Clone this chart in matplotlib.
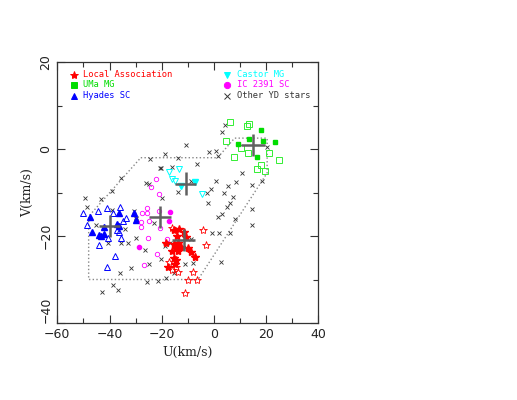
'''
U-V velocity diagram of young-disk stars with moving-group members.
'''
import matplotlib
matplotlib.use('Agg')
import matplotlib.pyplot as plt
from matplotlib.ticker import MultipleLocator

# Local Association
la_fill_u = [-13.4, -15.2, -14.1, -18.2, -15.2, -14.3, -12.4, -9.9, -8.6, -7.3, -16.2, -13.7, -15.2, -14.3, -17.5, -15.0, -13.7, -10.5, -11.4]
la_fill_v = [-18.4, -18.6, -20.0, -21.5, -21.9, -22.8, -22.5, -22.8, -23.6, -24.8, -23.4, -23.4, -25.1, -25.5, -27.1, -26.5, -21.5, -20.2, -19.0]
la_open_u = [-4.2, -2.8, -16.2, -7.3, -14.3, -16.2, -13.7, -8.0, -9.9, -6.3, -10.9, -17.0]
la_open_v = [-18.7, -22.0, -18.1, -24.8, -27.1, -27.8, -28.2, -28.2, -30.1, -30.1, -33.2, -26.0]

# UMa moving group
uma_fill_u = [18.0, 13.5, 9.3, 18.9, 23.7, 16.6]
uma_fill_v = [4.4, 2.3, 1.1, 1.9, 1.7, -1.8]
uma_open_u = [6.1, 12.7, 13.5, 4.8, 10.6, 7.7, 13.1, 21.1, 25.2, 18.0, 16.6, 19.5]
uma_open_v = [6.3, 5.4, 5.7, 1.9, 0.3, -1.8, -1.0, -1.0, -2.5, -3.7, -4.6, -5.1]

# Hyades supercluster
hya_fill_u = [-47.5, -46.7, -44.0, -43.1, -42.3, -42.1, -37.1, -36.3, -36.3, -30.6, -30.0]
hya_fill_v = [-15.6, -19.1, -19.7, -20.0, -19.6, -18.0, -17.2, -17.6, -14.6, -14.8, -16.4]
hya_open_u = [-50.3, -44.6, -41.1, -36.1, -38.6, -33.5, -48.6, -37.3, -36.5, -35.6, -40.5, -44.2, -38.0, -40.9, -35.0]
hya_open_v = [-14.8, -14.2, -13.6, -13.4, -14.6, -15.8, -17.5, -18.6, -19.1, -20.5, -20.5, -22.0, -24.5, -27.1, -16.5]

# Castor moving group
cas_fill_u = [-7.3, -12.7]
cas_fill_v = [-7.6, -8.5]
cas_open_u = [-17.2, -13.4, -15.9, -14.7, -4.5]
cas_open_v = [-5.4, -4.7, -6.9, -7.4, -10.4]

# IC 2391 supercluster
ic_fill_u = [-16.6, -17.3, -28.7]
ic_fill_v = [-14.4, -16.5, -22.5]
ic_open_u = [-22.3, -24.2, -21.0, -25.6, -27.7, -25.6, -28.1, -28.0, -24.8, -25.2, -20.5, -21.6, -26.7, -21.0, -17.8]
ic_open_v = [-7.0, -8.8, -10.3, -13.5, -14.6, -14.8, -16.7, -17.9, -16.6, -20.4, -18.2, -24.2, -26.7, -14.2, -20.7]

# other young-disk stars
oth_u = [-35.7, -39.1, -49.5, -43.1, -48.8, -10.8, -18.8, -13.7, -24.4, -20.7, -20.1, -15.9, -6.4,
         -26.1, -24.8, -13.7, -8.9, -2.5, -2.2, -19.7, -29.7, -29.7, -22.9, -45.0, -34.1, -29.7, -40.5,
         -35.4, -33.0, -26.5, -18.8, -11.1, -8.0, -15.2, -24.8, -31.6, -36.1, -38.6, -36.7, -42.7,
         -25.6, -21.4, -18.4, 4.2, 3.3, -1.8, 1.0, 1.6, 11.0, 20.4, 18.6, 14.6, 8.7, 5.4, 1.0, -1.2,
         3.8, 7.4, 6.1, 5.1, 14.8, 8.0, 3.3, 1.6, 14.8, -0.5, 2.0, 6.1, -8.6, 2.9, -20.1, -16.6,
         -39.2, -30.6, -30.0]
oth_v = [-6.6, -9.6, -11.3, -11.6, -13.4, 1.0, -1.1, -2.0, -2.4, -4.4, -4.4, -4.1, -3.5,
         -7.9, -8.0, -9.8, -7.4, -10.0, -12.5, -11.3, -15.9, -16.6, -17.1, -17.5, -18.5, -20.4, -21.5,
         -21.7, -21.5, -23.2, -22.3, -26.4, -26.1, -28.6, -26.4, -27.4, -28.6, -31.3, -32.3, -32.8,
         -30.5, -30.3, -29.7, 5.5, 3.8, -0.6, -0.4, -1.5, -5.6, 0.5, -7.3, -8.3, -7.7, -8.5, -7.4, -9.2,
         -10.0, -11.0, -12.5, -13.3, -13.9, -16.2, -15.0, -15.6, -17.5, -19.2, -19.2, -19.4, -20.8, -25.9, -25.4, -21.7,
         -14.0, -14.3, -16.0]

# group centres and their spreads
cen_u = [-11.5, 15.0, -40.0, -10.8, -20.7]
cen_v = [-20.9, 1.0, -17.7, -8.0, -15.7]
cen_du = [4.5, 4.5, 4.2, 4.1, 4.2]
cen_dv = [2.6, 2.5, 2.5, 2.6, 2.5]

# young-disk boundary
box_u = [-28, 1.5, 8, 20.5, 20.5, -6, -48, -48, -28]
box_v = [-2, -2, 2.5, 2.5, -5.5, -30, -30, -15.5, -2]

fig = plt.figure(figsize=(5.17, 4.0), dpi=100)
ax = fig.add_axes([0.111, 0.1925, 0.504, 0.6525])

ax.plot(box_u, box_v, color='#888888', linestyle=':', linewidth=1.0)

ax.plot(oth_u, oth_v, linestyle='', marker='x', color='#333333', markersize=3.3, mew=0.6)

ax.plot(hya_open_u, hya_open_v, linestyle='', marker='^', mfc='none', mec='blue', markersize=5, mew=0.7)
ax.plot(hya_fill_u, hya_fill_v, linestyle='', marker='^', color='blue', markersize=4.2)
ax.plot(uma_open_u, uma_open_v, linestyle='', marker='s', mfc='none', mec='#33ee33', markersize=4.5, mew=0.7)
ax.plot(uma_fill_u, uma_fill_v, linestyle='', marker='s', color='#00dd00', markersize=2.8)
ax.plot(cas_open_u, cas_open_v, linestyle='', marker='v', mfc='none', mec='cyan', markersize=4.8, mew=0.7)
ax.plot(cas_fill_u, cas_fill_v, linestyle='', marker='v', color='cyan', markersize=4)
ax.plot(ic_open_u, ic_open_v, linestyle='', marker='o', mfc='none', mec='magenta', markersize=3.2, mew=0.6)
ax.plot(ic_fill_u, ic_fill_v, linestyle='', marker='o', color='magenta', markersize=3)
ax.plot(la_open_u, la_open_v, linestyle='', marker='*', mfc='none', mec='red', markersize=6, mew=0.6)
ax.plot(la_fill_u, la_fill_v, linestyle='', marker='*', color='red', markersize=6)

ax.errorbar(cen_u, cen_v, xerr=cen_du, yerr=cen_dv, fmt='none', ecolor='#606060', elinewidth=1.8, capsize=0)

# legend, drawn by hand like the original
leg = [('*', 'red', 'Local Association', 0.04, 0.952),
       ('s', '#00dd00', 'UMa MG', 0.04, 0.912),
       ('^', 'blue', 'Hyades SC', 0.04, 0.870),
       ('v', 'cyan', 'Castor MG', 0.63, 0.952),
       ('o', 'magenta', 'IC 2391 SC', 0.63, 0.912),
       ('x', '#333333', 'Other YD stars', 0.63, 0.870)]
for m, c, lab, lx, ly in leg:
    ax.plot([lx + 0.022], [ly], marker=m, color=c, markersize=4.5 if m != '*' else 6,
            mew=0.7, linestyle='', transform=ax.transAxes)
    ax.text(lx + 0.06, ly, lab, color=c, transform=ax.transAxes,
            fontsize=6.3, family='DejaVu Sans Mono', va='center', ha='left')

ax.set_xlim(-60, 40)
ax.set_ylim(-40, 20)
ax.xaxis.set_major_locator(MultipleLocator(20))
ax.xaxis.set_minor_locator(MultipleLocator(10))
ax.yaxis.set_major_locator(MultipleLocator(20))
ax.yaxis.set_minor_locator(MultipleLocator(10))
ax.tick_params(which='both', direction='in', top=True, right=True, color='#333333', width=0.8)
ax.tick_params(which='major', length=6, labelsize=9, labelcolor='#222222')
ax.tick_params(which='minor', length=3.5)
ax.tick_params(axis='y', labelrotation=90)
for sp in ax.spines.values():
    sp.set_color('#333333')
    sp.set_linewidth(0.9)

ax.set_xlabel('U(km/s)', family='DejaVu Serif', fontsize=9, color='#222222')
ax.set_ylabel('V(km/s)', family='DejaVu Serif', fontsize=9, color='#222222')

# ticks are built at draw time, so draw once before adjusting the labels
fig.canvas.draw()
for lbl in ax.get_yticklabels():
    lbl.set_va('center')
    if lbl.get_position()[1] == -40:
        lbl.set_va('bottom')   # keep -40 clear of -60 as in the original

plt.savefig('out.png', dpi=100)
